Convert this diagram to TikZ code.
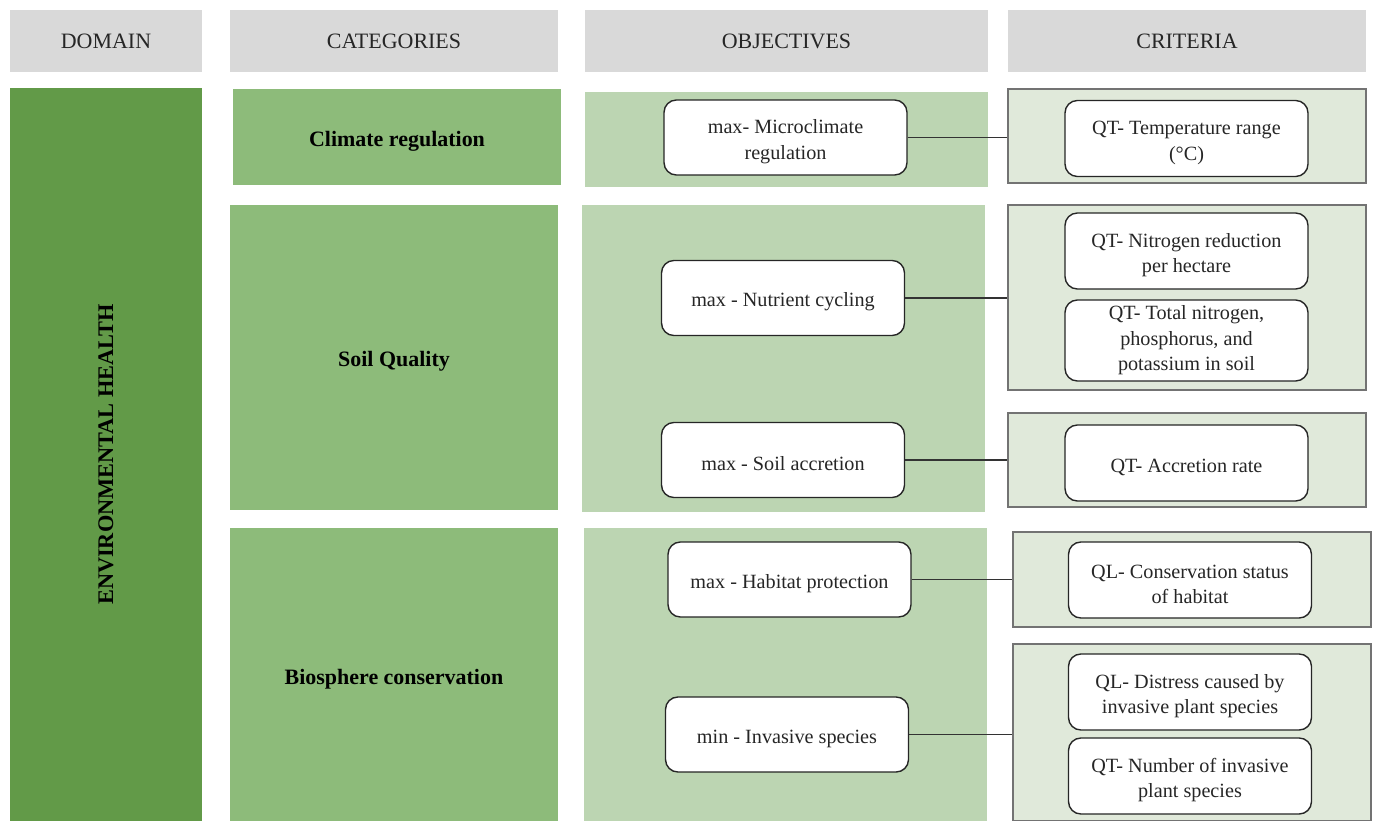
\documentclass[tikz,border=0pt]{standalone}
\usepackage{fontspec}
\setmainfont{Liberation Serif}
\usepackage{xcolor}
\usepackage{tikz}
\usetikzlibrary{
	shapes,positioning
}
\definecolor{headgray}{HTML}{D9D9D9}
\definecolor{domgreen}{HTML}{629A48}
\definecolor{catgreen}{HTML}{8DBB7A}
\definecolor{objgreen}{HTML}{BCD5B2}
\definecolor{critgreen}{HTML}{E0E9DA}
\definecolor{textgray}{HTML}{262626}
\newcommand{\topstrut}{\rule{0pt}{12.5pt}}
\tikzset{
	header/.style={fill=headgray, inner sep=0pt, text=textgray,
		font=\fontsize{12.5}{15}\selectfont, minimum height=1.24cm},
	domainbox/.style={fill=domgreen, inner sep=0pt, minimum width=3.84cm,
		font=\fontsize{12.7}{15}\selectfont\bfseries},
	catbox/.style={fill=catgreen, inner sep=0pt, minimum width=6.56cm,
		font=\fontsize{12.5}{15}\selectfont\bfseries,
		execute at begin node={\rule{0pt}{13.5pt}}},
	objpanel/.style={fill=objgreen, inner sep=0pt, minimum width=8.06cm},
	critpanel/.style={fill=critgreen, draw=black!55, line width=0.7pt, inner sep=0pt,
		minimum width=7.16cm},
	objbox/.style={draw=black!85, fill=white, rounded corners=7pt, line width=0.8pt,
		minimum width=4.86cm, minimum height=1.5cm, align=center, text=textgray,
		font=\fontsize{11.5}{14.5}\selectfont,
		execute at begin node={\topstrut}},
	critbox/.style={objbox, minimum height=1.52cm}
}
\begin{document}
\begin{tikzpicture}[x=0.02cm,y=-0.02cm]
		\useasboundingbox (0,0) rectangle (1373,821);
		% headers
		\node[header, minimum width=3.84cm] (hDomain) at (106,41) {DOMAIN};
		\node[header, minimum width=6.56cm] (hCat) at (394,41) {CATEGORIES};
		\node[header, minimum width=8.06cm] (hObj) at (786.5,41) {OBJECTIVES};
		\node[header, minimum width=7.16cm] (hCrit) at (1187,41) {CRITERIA};
		% domain
		\node[domainbox, minimum height=14.66cm] (Dom) at (106,454.5)
			{\rotatebox{90}{ENVIRONMENTAL HEALTH}};
		% categories
		\node[catbox, minimum height=1.92cm] (cClimate) at (397,137) {Climate regulation};
		\node[catbox, minimum height=6.10cm] (cSoil) at (394,357.5) {Soil Quality};
		\node[catbox, minimum height=5.86cm] (cBio) at (394,674.5) {Biosphere conservation};
		% objective panels
		\node[objpanel, minimum height=1.90cm] (pClimate) at (786.5,139.5) {};
		\node[objpanel, minimum height=6.14cm] (pSoil) at (783.5,358.5) {};
		\node[objpanel, minimum height=5.86cm] (pBio) at (785.5,674.5) {};
		% criteria panels
		\node[critpanel, minimum height=1.88cm] (qClimate) at (1187,136) {};
		\node[critpanel, minimum height=3.70cm] (qNutrient) at (1187,297.5) {};
		\node[critpanel, minimum height=1.88cm] (qAccretion) at (1187,460) {};
		\node[critpanel, minimum height=1.90cm] (qHabitat) at (1192,579.5) {};
		\node[critpanel, minimum height=3.54cm] (qInvasive) at (1192,732.5) {};
		% objectives
		\node[objbox] (oMicro) at (785.5,137.5) {\topstrut max- Microclimate\\regulation};
		\node[objbox] (oNutrient) at (783,298) {max - Nutrient cycling};
		\node[objbox] (oAccretion) at (783,460) {max - Soil accretion};
		\node[objbox] (oHabitat) at (789.5,579.5) {max - Habitat protection};
		\node[objbox] (oInvasive) at (787,734.5) {min - Invasive species};
		% criteria
		\node[critbox] (kTemp) at (1186.5,138.5) {\topstrut QT- Temperature range\\(°C)};
		\node[critbox] (kNitro) at (1186.5,251) {\topstrut QT- Nitrogen reduction\\per hectare};
		\node[critbox] (kNPK) at (1186.5,340.5) {QT- Total nitrogen,\\phosphorus, and\\potassium in soil};
		\node[critbox] (kRate) at (1186.5,463) {QT- Accretion rate};
		\node[critbox] (kStatus) at (1190,580) {\topstrut QL- Conservation status\\of habitat};
		\node[critbox] (kDistress) at (1190,692) {\topstrut QL- Distress caused by\\invasive plant species};
		\node[critbox] (kNumber) at (1190,776) {\topstrut QT- Number of invasive\\plant species};
		%
		\path[-,draw=black!80,line width=0.8pt]
		% horizontal links
		(oMicro.east) edge (oMicro.east -| qClimate.west)
		(oNutrient.east) edge (oNutrient.east -| qNutrient.west)
		(oAccretion.east) edge (oAccretion.east -| qAccretion.west)
		(oHabitat.east) edge (oHabitat.east -| qHabitat.west)
		(oInvasive.east) edge (oInvasive.east -| qInvasive.west);
	\end{tikzpicture}
\end{document}
